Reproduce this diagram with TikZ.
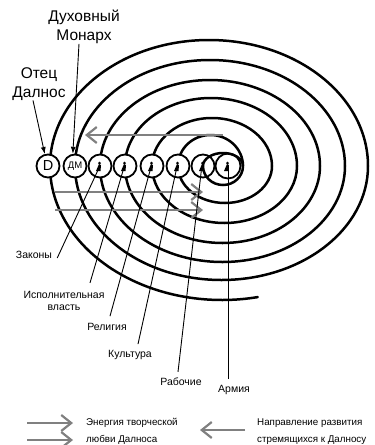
\documentclass[tikz,border=0pt]{standalone}
\usepackage{fontspec}
\setmainfont{Liberation Sans}
\usetikzlibrary{arrows.meta,calc}
\definecolor{arrgray}{RGB}{128,128,128}
\begin{document}
\begin{tikzpicture}[x=1pt,y=-1pt,
  spiral/.style={line width=2.5pt, black, line cap=round},
  ring/.style={circle, draw=black, line width=1.8pt, fill=white, minimum size=23pt, inner sep=0pt},
  ptr/.style={line width=0.9pt, black},
  blackarrow/.style={line width=0.9pt, black, -{Latex[length=7pt,width=5pt]}},
  grayarrow/.style={line width=2.2pt, draw=arrgray, -{Straight Barb[length=10pt,width=16pt]}},
  lbl/.style={font=\fontsize{10.5}{12.5}\selectfont, inner sep=0pt},
  big/.style={font=\fontsize{15.5}{18.5}\selectfont, inner sep=0pt, align=center},
  leg/.style={font=\fontsize{9.8}{17}\selectfont, inner sep=0pt, align=left, anchor=west},
  figure/.style={fill=black}
]
\useasboundingbox (0,0) rectangle (375,445);

% spiral
\draw[spiral] (50,166)
  arc[start angle=180,end angle=0,x radius=159pt,y radius=126pt]
  arc[start angle=0,end angle=-180,x radius=146.5pt,y radius=114pt]
  arc[start angle=180,end angle=0,x radius=135pt,y radius=106pt]
  arc[start angle=0,end angle=-180,x radius=122.5pt,y radius=96pt]
  arc[start angle=180,end angle=0,x radius=110pt,y radius=86pt]
  arc[start angle=0,end angle=-180,x radius=97.5pt,y radius=77pt]
  arc[start angle=180,end angle=0,x radius=86pt,y radius=68pt]
  arc[start angle=0,end angle=-180,x radius=72.5pt,y radius=57pt]
  arc[start angle=180,end angle=0,x radius=60pt,y radius=48pt]
  arc[start angle=0,end angle=-180,x radius=47pt,y radius=37pt]
  arc[start angle=180,end angle=0,x radius=32.5pt,y radius=31pt];
\draw[spiral] (50,166) arc[start angle=180,end angle=282,x radius=172pt,y radius=134pt];

% gray arrows in the picture
\coordinate (ga1s) at (223,135);
\coordinate (ga1e) at (85,135);
\coordinate (ga2s) at (55,192);
\coordinate (ga2e) at (203,192);
\coordinate (ga3s) at (55,210);
\coordinate (ga3e) at (203,210);
\draw[grayarrow] (ga1s) -- (ga1e);
\draw[grayarrow] (ga2s) -- (ga2e);
\draw[grayarrow] (ga3s) -- (ga3e);

% circles
\node[ring] (D) at (48,166) {\fontsize{14.5}{14.5}\selectfont D};
\node[ring] (DM) at (75,166) {\fontsize{9.5}{9.5}\selectfont ДМ};
\node[ring] (c1) at (100,166) {};
\node[ring] (c2) at (125,166) {};
\node[ring] (c3) at (152,166) {};
\node[ring] (c4) at (178,166) {};
\node[ring] (c5) at (203,166) {};
\node[ring, minimum size=25pt] (c6) at (228,166) {};

% innermost loop
\draw[spiral] (243,166)
  arc[start angle=0,end angle=-180,x radius=20pt,y radius=19pt]
  arc[start angle=180,end angle=0,x radius=20pt,y radius=13pt];

% small figures
\foreach \n in {c1,c2,c3,c4,c5,c6}{
  \fill[figure] ($(\n)+(-0.5,-3)$) circle (1.5pt);
  \fill[figure] ($(\n)+(-4,5)$) -- ($(\n)+(-1,-2)$) -- ($(\n)+(1,-1)$) -- ($(\n)+(0.5,5)$) -- cycle;
  \coordinate (f\n) at ($(\n)+(-1.5,3)$);
}

% labels
\node[big] (dmlab) at (84,27) {Духовный\\Монарх};
\node[big] (otec) at (39,84) {Отец\\Далнос};
\draw[blackarrow] ($(dmlab.south)+(-5,0)$) -- (DM.100);
\draw[blackarrow] ($(otec.south)+(-6,0)$) -- (D.105);

\node[lbl] (zak) at (34,255) {Законы};
\node[lbl, align=center] (isp) at (64,301) {Исполнительная\\власть};
\node[lbl] (rel) at (107,327) {Религия};
\node[lbl] (kul) at (130,355) {Культура};
\node[lbl] (rab) at (181,382) {Рабочие};
\node[lbl] (arm) at (234,390) {Армия};

\draw[ptr] ($(zak.east)+(5,3)$) -- (fc1);
\draw[ptr] ($(isp.north)+(26,-8)$) -- (fc2);
\draw[ptr] ($(rel.north)+(3,-7)$) -- (fc3);
\draw[ptr] ($(kul.north)+(8,-6)$) -- (fc4);
\draw[ptr] ($(rab.north)+(-3,-6)$) -- (fc5);
\draw[ptr] ($(arm.north)+(-6,-6)$) -- (c6.center);

% legend
\coordinate (l1s) at (27,423);
\coordinate (l1e) at (73,423);
\coordinate (l2s) at (27,440);
\coordinate (l2e) at (73,440);
\coordinate (l3s) at (245,430);
\coordinate (l3e) at (200,430);
\draw[grayarrow] (l1s) -- (l1e);
\draw[grayarrow] (l2s) -- (l2e);
\draw[grayarrow] (l3s) -- (l3e);
\node[leg] (leg1) at (86,431.5) {Энергия творческой\\любви Далноса};
\node[leg] (leg2) at (257,431.5) {Направление развития\\стремящихся к Далносу};
\end{tikzpicture}
\end{document}
